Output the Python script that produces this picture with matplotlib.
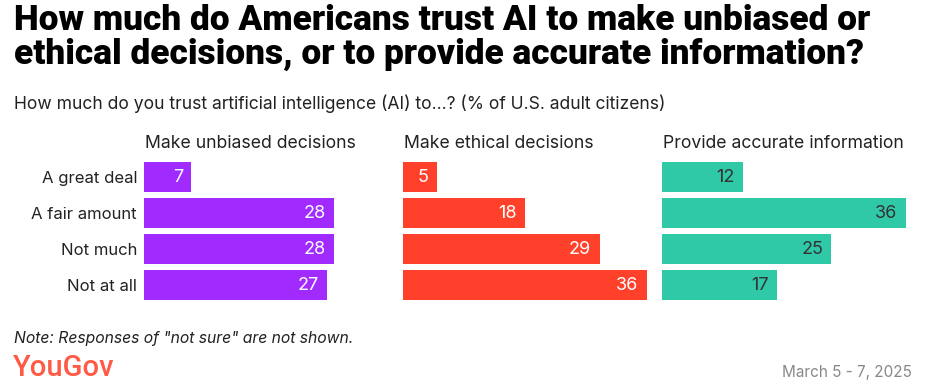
import matplotlib
matplotlib.use("Agg")
import matplotlib.pyplot as plt
from matplotlib import font_manager as fm

categories = ["A great deal", "A fair amount", "Not much", "Not at all"]
panel_titles = ["Make unbiased decisions", "Make ethical decisions", "Provide accurate information"]
unbiased = [7, 28, 28, 27]
ethical = [5, 18, 29, 36]
accurate = [12, 36, 25, 17]
series = [unbiased, ethical, accurate]
colors = ["#A12BFF", "#FF412C", "#30C9A8"]
label_colors = ["white", "white", "#333333"]

names = {f.name for f in fm.fontManager.ttflist}
title_font = "Roboto"
body_font = "Inter" if "Inter" in names else "DejaVu Sans"

W, H = 930, 386
fig = plt.figure(figsize=(W / 100, H / 100), dpi=100)

fig.text(14 / W, 1 - 4 / H,
         "How much do Americans trust AI to make unbiased or\nethical decisions, or to provide accurate information?",
         fontsize=25.4, fontweight=900, family=title_font, va="top", ha="left",
         linespacing=1.05, color="black")
fig.text(14 / W, 1 - 104 / H,
         "How much do you trust artificial intelligence (AI) to...? (% of U.S. adult citizens)",
         fontsize=12.6, family=body_font, va="center", ha="left", color="#222222")

lefts = [144, 403, 662]
axw = 244
top, bottom = 162, 300
for i, (vals, col, lc, t) in enumerate(zip(series, colors, label_colors, panel_titles)):
    ax = fig.add_axes([lefts[i] / W, 1 - bottom / H, axw / W, (bottom - top) / H])
    ypos = list(range(len(categories)))
    ax.barh(ypos, vals, height=30 / 36, color=col)
    ax.set_xlim(0, 36)
    ax.set_ylim(3 + 15 / 36, -15 / 36)
    for y, v in zip(ypos, vals):
        ax.annotate(str(v), (v, y), xytext=(-6, 0), textcoords="offset points",
                    ha="right", va="center", color=lc, fontsize=13, family=body_font)
    for s in ax.spines.values():
        s.set_visible(False)
    ax.set_xticks([])
    if i == 0:
        ax.set_yticks(ypos)
        ax.set_yticklabels(categories, fontsize=12, family=body_font, color="#222222")
        ax.tick_params(axis="y", length=0, pad=5)
    else:
        ax.set_yticks([])
    fig.text(lefts[i] / W + 1 / W, 1 - 144 / H, t, fontsize=12.7, family=body_font,
             ha="left", va="center", color="#222222")

fig.text(14 / W, 1 - 339 / H, 'Note: Responses of "not sure" are not shown.',
         fontsize=11.3, style="italic", family=body_font, ha="left", va="center", color="#222222")
fig.text(13 / W, 1 - 368 / H, "YouGov", fontsize=21, family=title_font, fontweight="medium",
         ha="left", va="center", color="#FF5A45")
fig.text(912 / W, 1 - 372 / H, "March 5 - 7, 2025", fontsize=11, family=body_font,
         ha="right", va="center", color="#888888")

fig.savefig("out.png", dpi=100)
